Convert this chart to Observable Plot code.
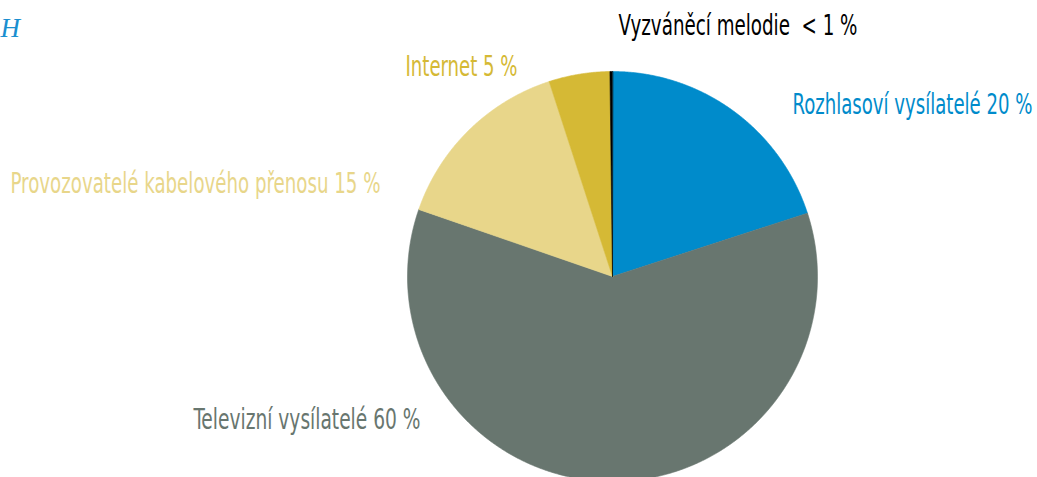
<!DOCTYPE html>
<html>
<head>
<meta charset="utf-8">
<script src="https://cdn.jsdelivr.net/npm/d3@7"></script>
<script src="https://cdn.jsdelivr.net/npm/@observablehq/plot@0.6"></script>
<style>
  html, body { margin: 0; padding: 0; background: #fff; }
  #chart { width: 1037px; height: 477px; overflow: hidden; }
</style>
</head>
<body>
<div id="chart"></div>
<script>
// Data (clockwise from 12 o'clock)
const categories = ["Rozhlasoví vysílatelé", "Televizní vysílatelé", "Provozovatelé kabelového přenosu", "Internet", "Vyzváněcí melodie"];
const shares = [20.0, 60.3, 14.7, 4.8, 0.2];
const labels = ["Rozhlasoví vysílatelé 20 %", "Televizní vysílatelé 60 %", "Provozovatelé kabelového přenosu 15 %", "Internet 5 %", "Vyzváněcí melodie \u00a0< 1 %"];
const colors = ["#008bcb", "#68766f", "#e8d68a", "#d5b935", "#000000"];

// Layout (pixels)
const W = 1037, H = 477;
const cx = 612, cy = 276, R = 205;
const labelPos = [[792, 105], [193, 420], [10, 184], [405, 66.5], [618, 25.5]];
const labelWidth = [240, 227, 370, 112, 239];

const arcs = d3.pie().sort(null).value(d => d)(shares);
const pts = [];
arcs.forEach((a, i) => {
  const cat = categories[i];
  pts.push({cat, x: cx, y: cy});
  const n = Math.max(2, Math.ceil((a.endAngle - a.startAngle) / 0.005));
  for (let k = 0; k <= n; k++) {
    const t = a.startAngle + (a.endAngle - a.startAngle) * k / n;
    pts.push({cat, x: cx + R * Math.sin(t), y: cy - R * Math.cos(t)});
  }
});

const labelData = labels.map((t, i) => ({t, cat: categories[i], x: labelPos[i][0], y: labelPos[i][1]}));

const font = "'DejaVu Sans Condensed', 'Liberation Sans Narrow', sans-serif";

const plot = Plot.plot({
  width: W, height: H,
  margin: 0,
  x: {domain: [0, W], range: [0, W], axis: null},
  y: {domain: [0, H], range: [0, H], axis: null},
  color: {domain: categories, range: colors},
  style: {background: "#fff"},
  marks: [
    Plot.line(pts, {x: "x", y: "y", z: "cat", fill: "cat", stroke: "cat", strokeWidth: 0.6, curve: "linear-closed"}),
    Plot.text(labelData, {x: "x", y: "y", text: "t", fill: "cat", textAnchor: "start", lineAnchor: "middle", fontSize: 28, fontFamily: font, className: "lbl"}),
    Plot.text(["H"], {x: 0, y: 28, text: d => d, fill: "#1a8fd0", textAnchor: "start", lineAnchor: "middle", fontSize: 27, fontStyle: "italic", fontFamily: "'Liberation Serif', serif"})
  ]
});
// condense label glyphs to the reference's narrow typeface widths
d3.select(plot).selectAll(".lbl text").each(function(d, i) {
  const idx = labels.indexOf(this.textContent);
  if (idx >= 0) {
    this.setAttribute("textLength", labelWidth[idx]);
    this.setAttribute("lengthAdjust", "spacingAndGlyphs");
  }
});
document.getElementById("chart").appendChild(plot);
</script>
</body>
</html>
